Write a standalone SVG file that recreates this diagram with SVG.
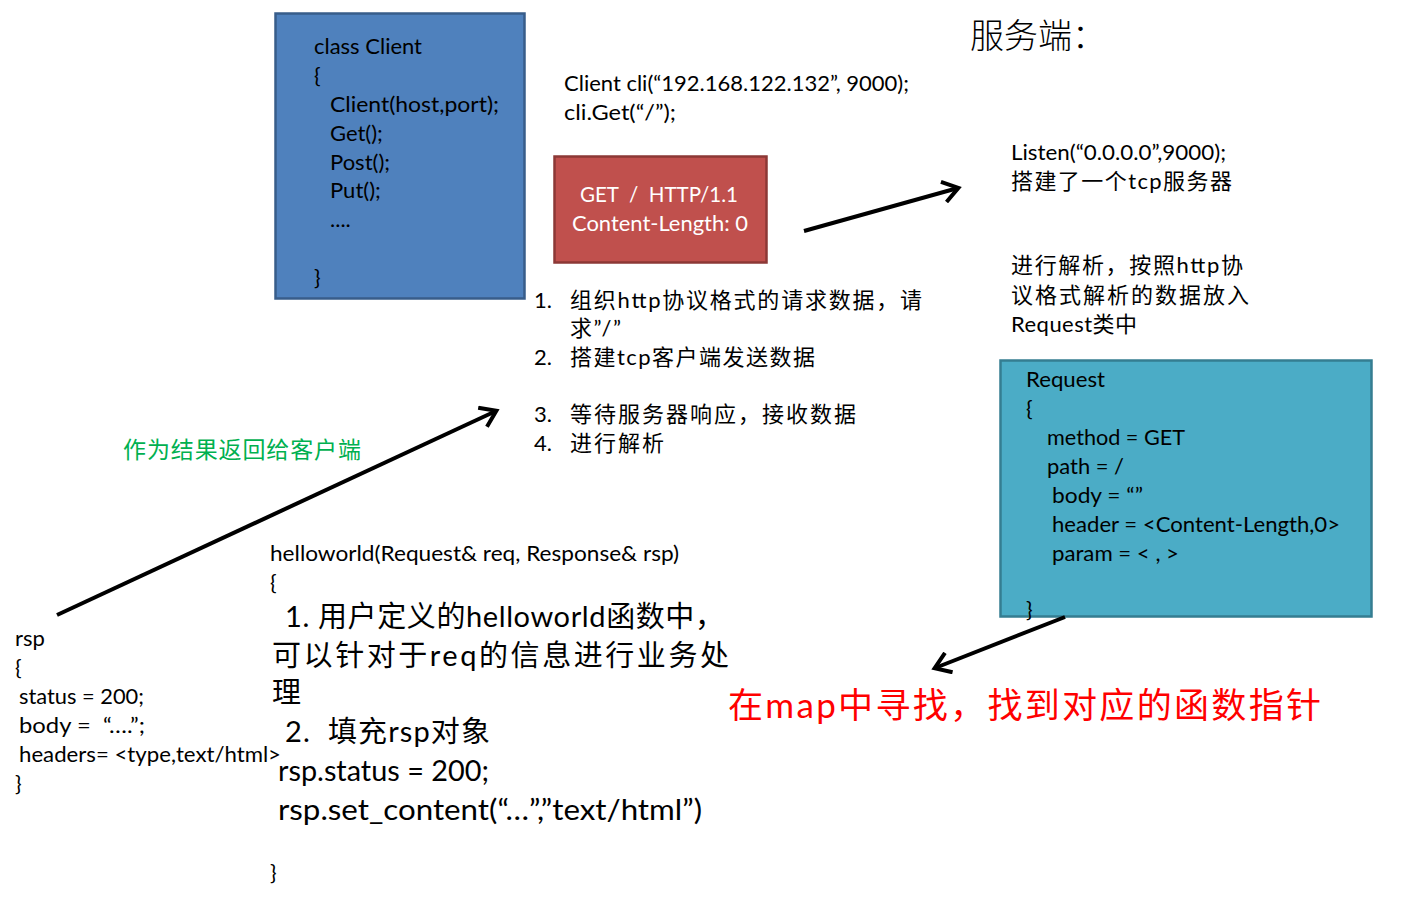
<svg xmlns="http://www.w3.org/2000/svg" width="1409" height="898" viewBox="0 0 1409 898">
<style>
text{font-family:Lato,"Noto Sans CJK SC",sans-serif;font-size:22px;fill:#000}
.w{fill:#fff}
.big{font-size:29px}
.title{font-family:"Noto Sans CJK SC",sans-serif;font-weight:300;font-size:34px}
.red{fill:#FF0000;font-size:35px}
.green{fill:#00B050;font-size:23px}
.conn{stroke:#000;stroke-width:4;fill:none;marker-end:url(#ah)}
</style>
<defs>
<marker id="ah" markerWidth="6" markerHeight="6" refX="4.5" refY="3" orient="auto" markerUnits="strokeWidth">
<path d="M0.8,0.4 L4.6,3 L0.8,5.6" fill="none" stroke="#000" stroke-width="1"/>
</marker>
</defs>
<rect width="1409" height="898" fill="#fff"/>

<g id="client-class">
<rect x="275.5" y="13.5" width="249" height="285" fill="#4F81BD" stroke="#385D8A" stroke-width="2.5"/>
<text x="314" y="54" textLength="108" lengthAdjust="spacingAndGlyphs">class Client</text>
<text x="314" y="83">{</text>
<text x="330" y="112" textLength="169" lengthAdjust="spacingAndGlyphs">Client(host,port);</text>
<text x="330" y="141">Get();</text>
<text x="330" y="170">Post();</text>
<text x="330" y="198">Put();</text>
<text x="330" y="227">....</text>
<text x="314" y="285">}</text>
</g>

<g id="client-call">
<text x="564" y="91" textLength="345" lengthAdjust="spacingAndGlyphs">Client cli(“192.168.122.132”, 9000);</text>
<text x="564" y="120" textLength="112" lengthAdjust="spacingAndGlyphs">cli.Get(“/”);</text>
</g>

<g id="http-request">
<rect x="554.5" y="156.5" width="212" height="106" fill="#C0504D" stroke="#8C3836" stroke-width="2.5"/>
<text class="w" x="580" y="202" textLength="158" lengthAdjust="spacingAndGlyphs" xml:space="preserve">GET  /  HTTP/1.1</text>
<text class="w" x="572" y="231" textLength="176" lengthAdjust="spacingAndGlyphs">Content-Length: 0</text>
</g>

<g id="server-title">
<text class="title" x="970" y="48">服务端：</text>
</g>

<g id="server-listen">
<text x="1011" y="160" textLength="215" lengthAdjust="spacingAndGlyphs">Listen(“0.0.0.0”,9000);</text>
<text x="1011" y="189" textLength="221">搭建了一个tcp服务器</text>
</g>

<g id="server-parse">
<text x="1011" y="273" textLength="232">进行解析，按照http协</text>
<text x="1011" y="303" textLength="238">议格式解析的数据放入</text>
<text x="1011" y="332" textLength="126">Request类中</text>
</g>

<g id="request-obj">
<rect x="1000.5" y="360.5" width="371" height="256" fill="#4BACC6" stroke="#357D91" stroke-width="2.5"/>
<text x="1026" y="387" textLength="79" lengthAdjust="spacingAndGlyphs">Request</text>
<text x="1026" y="416">{</text>
<text x="1047" y="445" textLength="138" lengthAdjust="spacingAndGlyphs">method = GET</text>
<text x="1047" y="474" textLength="77" lengthAdjust="spacingAndGlyphs">path = /</text>
<text x="1052" y="503" textLength="91" lengthAdjust="spacingAndGlyphs">body = “”</text>
<text x="1052" y="532" textLength="288" lengthAdjust="spacingAndGlyphs">header = &lt;Content-Length,0&gt;</text>
<text x="1052" y="561" textLength="127" lengthAdjust="spacingAndGlyphs">param = &lt; , &gt;</text>
<text x="1026" y="617">}</text>
</g>

<g id="client-steps">
<text x="534" y="308">1.</text>
<text x="570" y="308" textLength="352">组织http协议格式的请求数据，请</text>
<text x="570" y="336" textLength="51">求”/”</text>
<text x="534" y="365">2.</text>
<text x="570" y="365" textLength="245">搭建tcp客户端发送数据</text>
<text x="534" y="422">3.</text>
<text x="570" y="422" textLength="286">等待服务器响应，接收数据</text>
<text x="534" y="451">4.</text>
<text x="570" y="451" textLength="94">进行解析</text>
</g>

<g id="return-label">
<text class="green" x="123" y="458" textLength="238">作为结果返回给客户端</text>
</g>

<g id="map-lookup">
<text class="red" x="728" y="718" textLength="593">在map中寻找，找到对应的函数指针</text>
</g>

<g id="rsp-obj">
<text x="15" y="646">rsp</text>
<text x="15" y="675">{</text>
<text x="19" y="704" textLength="125" lengthAdjust="spacingAndGlyphs">status = 200;</text>
<text x="19" y="733" textLength="126" lengthAdjust="spacingAndGlyphs" xml:space="preserve">body =  “….”;</text>
<text x="19" y="762" textLength="262" lengthAdjust="spacingAndGlyphs">headers= &lt;type,text/html&gt;</text>
<text x="15" y="791">}</text>
</g>

<g id="handler">
<text x="270" y="561" textLength="409" lengthAdjust="spacingAndGlyphs">helloworld(Request&amp; req, Response&amp; rsp)</text>
<text x="270" y="590">{</text>
<text class="big" x="285" y="627" textLength="439">1. 用户定义的helloworld函数中，</text>
<text class="big" x="272" y="666" textLength="457">可以针对于req的信息进行业务处</text>
<text class="big" x="272" y="703">理</text>
<text class="big" x="285" y="742" textLength="205" xml:space="preserve">2.  填充rsp对象</text>
<text class="big" x="278" y="781" textLength="211" lengthAdjust="spacingAndGlyphs">rsp.status = 200;</text>
<text class="big" x="278" y="820" textLength="424" lengthAdjust="spacingAndGlyphs">rsp.set_content(“…”,”text/html”)</text>
<text x="270" y="880">}</text>
</g>

<g id="connectors">
<line class="conn" x1="804" y1="231" x2="958" y2="188"/>
<line class="conn" x1="1065" y1="617" x2="935" y2="668"/>
<line class="conn" x1="57" y1="615" x2="496" y2="411"/>
</g>
</svg>
